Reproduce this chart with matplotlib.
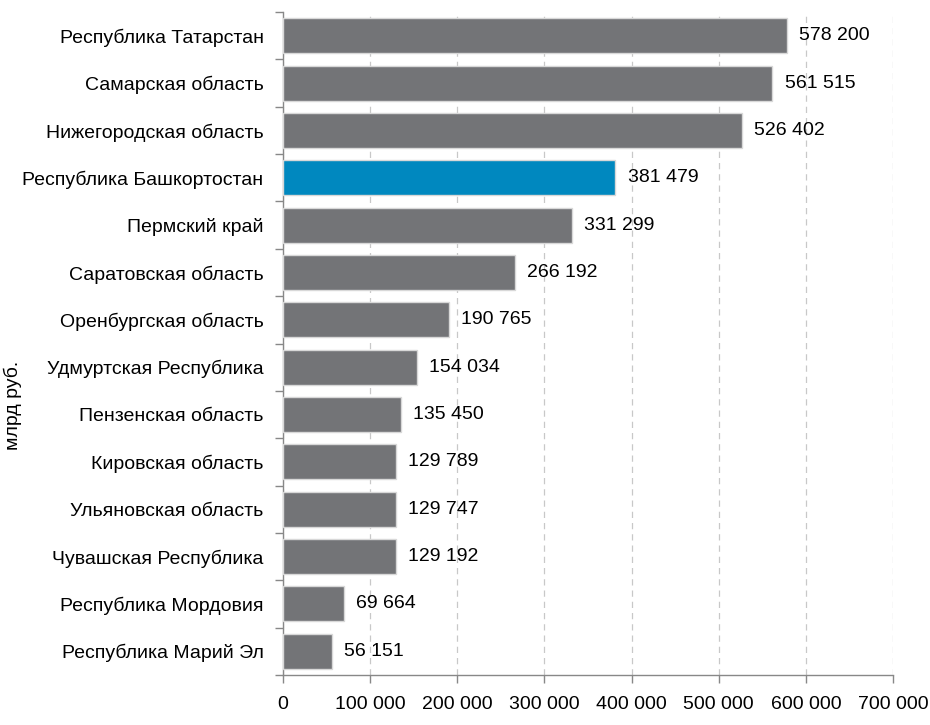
import matplotlib
matplotlib.use("Agg")
import matplotlib.pyplot as plt
from matplotlib.ticker import FuncFormatter, FixedLocator

plt.rcParams['font.family'] = ['Liberation Sans Narrow', 'Liberation Sans', 'DejaVu Sans']

regions = ["Республика Татарстан", "Самарская область", "Нижегородская область",
           "Республика Башкортостан", "Пермский край", "Саратовская область",
           "Оренбургская область", "Удмуртская Республика", "Пензенская область",
           "Кировская область", "Ульяновская область", "Чувашская Республика",
           "Республика Мордовия", "Республика Марий Эл"]
values = [578200, 561515, 526402, 381479, 331299, 266192, 190765, 154034,
          135450, 129789, 129747, 129192, 69664, 56151]
highlight = "Республика Башкортостан"
xticks = [0, 100000, 200000, 300000, 400000, 500000, 600000, 700000]
ylabel = "млрд руб."

def fmt(v):
    return f"{int(v):,}".replace(",", " ")

fig = plt.figure(figsize=(9.3, 7.25), dpi=100)
ax = fig.add_axes([283/930, 1-675/725, 610/930, (675-12)/725])

n = len(regions)
ypos = list(range(n))
colors = ["#0088bf" if r == highlight else "#737477" for r in regions]
ax.barh(ypos, values, height=0.74, color=colors, edgecolor="#d8d8d8", linewidth=1, zorder=3)
ax.set_ylim(n - 0.5, -0.5)
ax.set_xlim(0, 700000)

for y, v in zip(ypos, values):
    ax.text(v + 14000, y, fmt(v), va="center", ha="left", fontsize=14, color="#000000")

ax.set_yticks(ypos)
ax.set_yticklabels(regions, fontsize=14)
ax.yaxis.set_minor_locator(FixedLocator([i - 0.5 for i in range(n + 1)]))
ax.tick_params(axis="y", which="major", length=0, pad=14)
ax.tick_params(axis="y", which="minor", length=6, color="#888888", width=1)

ax.set_xticks(xticks)
ax.xaxis.set_major_formatter(FuncFormatter(lambda v, p: fmt(v)))
ax.tick_params(axis="x", length=6, color="#888888", width=1, labelsize=14, pad=9)

ax.grid(axis="x", linestyle=(0, (5, 4)), color="#c8c8c8", linewidth=0.9, zorder=0)
for s in ["top", "right"]:
    ax.spines[s].set_visible(False)
for s in ["left", "bottom"]:
    ax.spines[s].set_color("#888888")
    ax.spines[s].set_linewidth(1)

fig.text(13/930, 1-405/725, ylabel, rotation=90, ha="center", va="center", fontsize=14)

fig.savefig("out.png", dpi=100)
